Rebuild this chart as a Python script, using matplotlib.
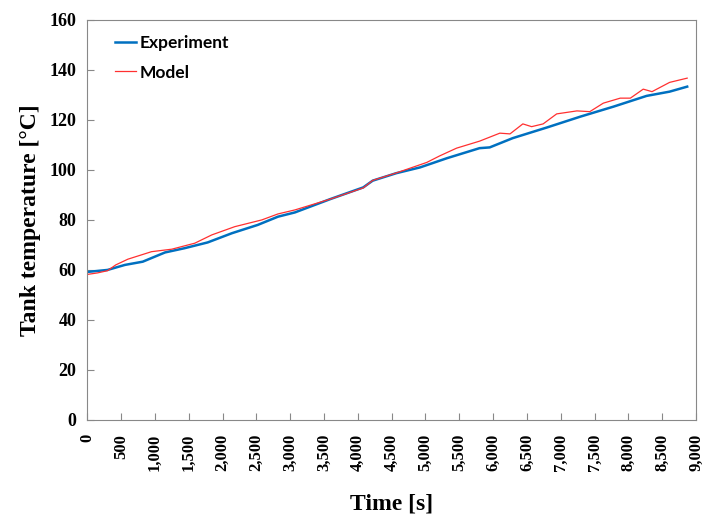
import matplotlib
matplotlib.use('Agg')
import matplotlib.pyplot as plt
from matplotlib.ticker import FuncFormatter

# experiment readings (time s, temperature C)
exp_t = [0, 150, 300, 555, 820, 1150, 1440, 1780, 2140, 2520, 2820, 3070, 3590,
         4080, 4220, 4570, 4920, 5320, 5800, 5950, 6290, 6800, 7290, 7780, 8270,
         8610, 8870]
exp_T = [59.2, 59.6, 60.0, 62.0, 63.3, 67.0, 68.7, 71.0, 74.7, 78.0, 81.3, 83.0,
         88.3, 93.0, 95.7, 98.7, 101.0, 104.7, 108.7, 109.0, 112.7, 117.0, 121.3,
         125.3, 129.6, 131.3, 133.3]

# model readings
mod_t = [0, 150, 300, 420, 600, 950, 1250, 1590, 1840, 2180, 2580, 2820, 3070,
         3590, 4080, 4220, 4570, 5020, 5210, 5460, 5800, 6100, 6250, 6440, 6570,
         6740, 6940, 7240, 7430, 7630, 7880, 8030, 8220, 8350, 8610, 8870]
mod_T = [58.2, 58.8, 59.7, 62.0, 64.3, 67.3, 68.3, 70.7, 74.0, 77.3, 80.0, 82.4,
         84.0, 88.3, 92.8, 95.8, 98.8, 103.0, 105.6, 108.7, 111.5, 114.7, 114.4,
         118.4, 117.3, 118.4, 122.4, 123.6, 123.3, 126.7, 128.7, 128.7, 132.3,
         131.3, 135.0, 136.7]

xticks = list(range(0, 9001, 500))
yticks = list(range(0, 161, 20))

fig = plt.figure(figsize=(7.04, 5.23), dpi=100)
ax = fig.add_axes([0.124, 0.197, 0.8646, 0.765])

ax.plot(exp_t, exp_T, color='#0070C0', lw=1.8, label='Experiment')
ax.plot(mod_t, mod_T, color='#FF3030', lw=0.9, label='Model')

ax.set_xlim(0, 9000)
ax.set_ylim(0, 160)
ax.set_xticks(xticks)
ax.set_yticks(yticks)
ax.xaxis.set_major_formatter(FuncFormatter(lambda v, p: f'{int(v):,}'))
ax.tick_params(direction='in', length=5, color='#888888')
ax.tick_params(axis='x', pad=10)
ax.tick_params(axis='y', pad=8)

serif = 'Liberation Serif'
for lab in ax.get_xticklabels():
    lab.set_family(serif)
    lab.set_fontweight('bold')
    lab.set_fontsize(12)
    lab.set_rotation(90)
for lab in ax.get_yticklabels():
    lab.set_family(serif)
    lab.set_fontweight('bold')
    lab.set_fontsize(13)

for s in ax.spines.values():
    s.set_color('#888888')

ax.set_xlabel('Time [s]', family=serif, fontweight='bold', fontsize=17, labelpad=16)
ax.set_ylabel('Tank temperature [°C]', family=serif, fontweight='bold', fontsize=17, labelpad=6)

ax.legend(loc='upper left', frameon=False, handlelength=1.2, handletextpad=0.2,
          labelspacing=0.75, prop={'family': 'Lato', 'weight': 'bold', 'size': 12.5},
          bbox_to_anchor=(0.02, 1.0))

fig.savefig('out.png', dpi=100)
